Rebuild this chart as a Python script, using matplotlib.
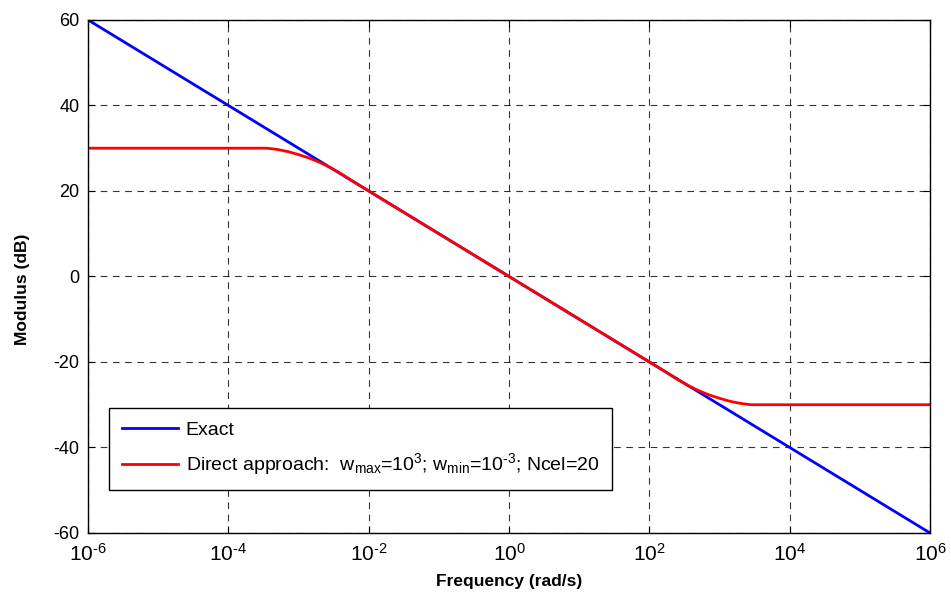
import numpy as np
import matplotlib
matplotlib.use('Agg')
import matplotlib.pyplot as plt
from matplotlib.ticker import FixedLocator, FuncFormatter

plt.rcParams['font.family'] = ['Liberation Sans', 'DejaVu Sans']
plt.rcParams['mathtext.fontset'] = 'custom'
plt.rcParams['mathtext.rm'] = 'Liberation Sans'
plt.rcParams['mathtext.it'] = 'Liberation Sans'
plt.rcParams['mathtext.default'] = 'regular'
plt.rcParams['axes.unicode_minus'] = False

# data (log10 of frequency, dB)
exact_logw = [-6, -4, -2, 0, 2, 4, 6]
exact_db = [60, 40, 20, 0, -20, -40, -60]

direct_logw = [-6, -3.6, -3.45, -3.3, -3.15, -3.0, -2.85, -2.7, -2.55, -2.4, -2.2, -2.0,
               0, 2.0, 2.2, 2.4, 2.55, 2.7, 2.85, 3.0, 3.15, 3.3, 3.45, 3.6, 6]
direct_db = [30, 30, 30, 29.7, 29.2, 28.5, 27.7, 26.7, 25.5, 24.1, 22.0, 20.0,
             0, -20.0, -22.0, -24.1, -25.5, -26.7, -27.7, -28.5, -29.2, -29.7, -30, -30, -30]

xticks = [1e-6, 1e-4, 1e-2, 1e0, 1e2, 1e4, 1e6]
yticks = [-60, -40, -20, 0, 20, 40, 60]


def pow_label(v, pos):
    e = int(round(np.log10(v)))
    # plain hyphen like the original, not a math minus
    s = r'\text{-}%d' % abs(e) if e < 0 else '%d' % e
    return r'$10^{%s}$' % s


fig = plt.figure(figsize=(9.51, 5.98), dpi=100)
ax = fig.add_axes([0.0925, 0.1087, 0.8855, 0.858])

ax.semilogx(10.0 ** np.array(exact_logw), exact_db, color='#0000ff', lw=2,
            label='Exact')
ax.semilogx(10.0 ** np.array(direct_logw), direct_db, color='#ff0000', lw=2,
            label=r'Direct approach:  w$_{max}$=10$^{3}$; w$_{min}$=10$^{\text{-}3}$; Ncel=20')

ax.set_xlim(1e-6, 1e6)
ax.set_ylim(-60, 60)
ax.xaxis.set_major_locator(FixedLocator(xticks))
ax.xaxis.set_minor_locator(FixedLocator([]))
ax.xaxis.set_major_formatter(FuncFormatter(pow_label))
ax.set_yticks(yticks)

ax.grid(True, color='black', lw=0.8, linestyle=(0, (6, 5)), alpha=0.8)
ax.tick_params(direction='in', top=True, right=True, length=5, width=0.8)
ax.tick_params(axis='y', labelsize=13, pad=6)
ax.tick_params(axis='x', labelsize=15, pad=7)
for s in ax.spines.values():
    s.set_linewidth(1)

ax.set_xlabel('Frequency (rad/s)', fontsize=12.5, fontweight='bold')
ax.set_ylabel('Modulus (dB)', fontsize=12.5, fontweight='bold')
ax.xaxis.set_label_coords(0.5, -0.08)
ax.yaxis.set_label_coords(-0.069, 0.474)

leg = ax.legend(loc='lower left', bbox_to_anchor=(0.025, 0.084), fontsize=14,
                fancybox=False, framealpha=1, edgecolor='black',
                handlelength=2.9, handletextpad=0.4, borderpad=0.65,
                labelspacing=0.65, borderaxespad=0)
leg.get_frame().set_linewidth(1)

fig.savefig('out.png', dpi=100)
